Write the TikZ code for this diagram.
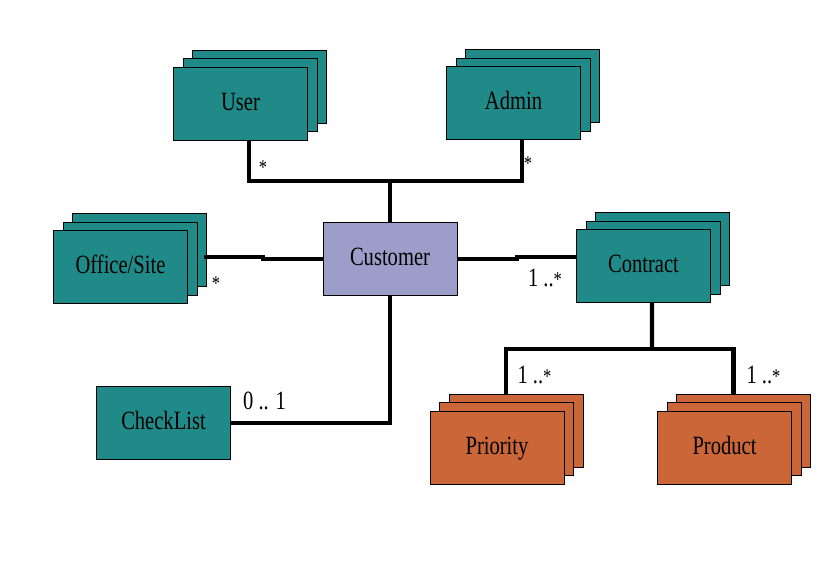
\documentclass[tikz,border=0pt]{standalone}
\usepackage{fontspec}
\setmainfont{Liberation Serif}
\newfontfamily\boxfont{Liberation Serif}[FakeStretch=0.78]
\usetikzlibrary{shadows}
\definecolor{tealbox}{HTML}{1F8A87}
\definecolor{custbox}{HTML}{9D9DC9}
\definecolor{rustbox}{HTML}{CA6638}
\newcommand{\many}{{\fontsize{12}{14}\selectfont *}}

\begin{document}
\begin{tikzpicture}[x=0.02cm, y=-0.02cm,
  box/.style={rectangle, draw=black, line width=0.5pt, fill=#1, minimum width=2.68cm, minimum height=1.46cm,
    inner sep=0pt, text height=0.35cm, text depth=0.09cm, font=\boxfont\fontsize{15}{18}\selectfont},
  stack/.style={box=#1,
    copy shadow={shadow xshift=0.38cm, shadow yshift=0.34cm, fill=#1, line width=0.5pt},
    copy shadow={shadow xshift=0.19cm, shadow yshift=0.17cm, fill=#1, line width=0.5pt}},
  link/.style={line width=2.3pt},
  mult/.style={inner sep=0pt, font=\boxfont\fontsize{15}{18}\selectfont}
]
  \useasboundingbox (0,0) rectangle (839,575);
  \node[stack=tealbox] (user)      at (240.5,103.5) {User};
  \node[stack=tealbox] (admin)     at (513.5,103)   {Admin};
  \node[stack=tealbox] (office)    at (120.5,267)   {Office/Site};
  \node[box=custbox]   (customer)  at (390,259)     {Customer};
  \node[stack=tealbox] (contract)  at (643.5,266)   {Contract};
  \node[box=tealbox]   (checklist) at (163.5,423)   {CheckList};
  \node[stack=rustbox] (priority)  at (497,447.5)   {Priority};
  \node[stack=rustbox] (product)   at (724.5,447.5) {Product};

  \coordinate (bus) at (390,181);
  \coordinate (split) at (652,349);
  \draw[link] (customer.north) -- (bus);
  \draw[link] ([xshift=0.17cm]user.south) |- (bus) -| ([xshift=0.17cm]admin.south);
  \draw[link] (customer.west) -- ++(-60,0) -- ++(0,-2) coordinate (oj) -- ([xshift=0.32cm]office.east |- oj);
  \draw[link] (customer.east) -- ++(60,0) -- ++(0,-2) coordinate (cj) -- (contract.west |- cj);
  \draw[link] (checklist.east) -| (customer.south);
  \draw[link] ([xshift=0.17cm]contract.south) -- (split);
  \draw[link] (split) -| ([xshift=0.18cm,yshift=0.32cm]priority.north);
  \draw[link] (split) -| ([xshift=0.18cm,yshift=0.32cm]product.north);

  \node[mult] (m1) at (263,168) {\many};
  \node[mult] (m2) at (528,164) {\many};
  \node[mult] (m3) at (216,284) {\many};
  \node[mult] (m4) at (545,278) {1 ..\many};
  \node[mult] (m5) at (264.5,401) {0 .. 1};
  \node[mult] (m6) at (534.5,375) {1 ..\many};
  \node[mult] (m7) at (763.5,375) {1 ..\many};
\end{tikzpicture}
\end{document}
